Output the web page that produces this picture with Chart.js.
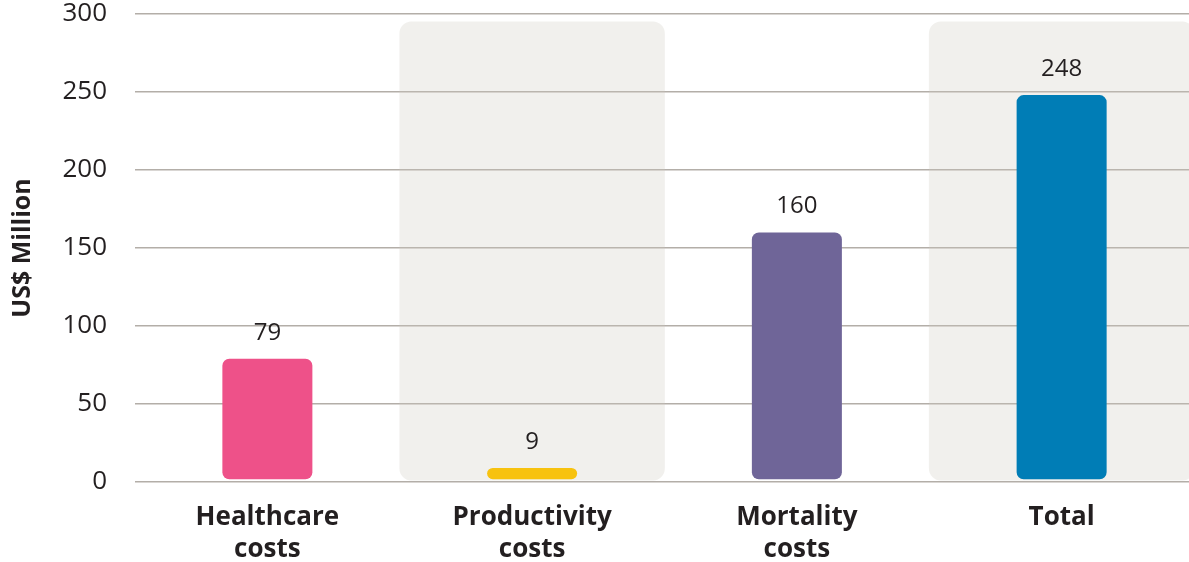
<!DOCTYPE html>
<html>
<head>
<meta charset="utf-8">
<script src="https://cdn.jsdelivr.net/npm/chart.js@4.4.1/dist/chart.umd.min.js"></script>
<style>
  html, body { margin: 0; padding: 0; background: #ffffff; overflow: hidden; }
  #wrap { width: 1195px; height: 562px; position: relative; }
</style>
</head>
<body>
<div id="wrap"><canvas id="chart"></canvas></div>
<script>
// Economic cost components, US$ million
const categories = [['Healthcare', 'costs'], ['Productivity', 'costs'], ['Mortality', 'costs'], ['Total']];
const costValues = [79, 9, 160, 248];
const barColors = ['#ee5189', '#f7c20f', '#6f6598', '#007db6'];
const yTicks = { min: 0, max: 300, step: 50 };
// categories that sit on a light panel, and the panel's extent in data units
const panelCategories = [1, 3];
const panelRange = [1.2, 295];
const barBase = 1.8;

const panelData = categories.map((_, i) => panelCategories.includes(i) ? panelRange : null);

const valueLabels = {
  id: 'valueLabels',
  afterDatasetsDraw(chart) {
    const ctx = chart.ctx;
    const meta = chart.getDatasetMeta(1);
    ctx.save();
    ctx.font = '24px "Open Sans", sans-serif';
    ctx.fillStyle = '#231f20';
    ctx.textAlign = 'center';
    ctx.textBaseline = 'middle';
    meta.data.forEach((bar, i) => {
      ctx.fillText(String(costValues[i]), bar.x, bar.y - 26);
    });
    ctx.restore();
  }
};

new Chart(document.getElementById('chart'), {
  type: 'bar',
  data: {
    labels: categories,
    datasets: [
      {
        data: panelData,
        backgroundColor: 'rgba(206, 200, 192, 0.28)',
        borderRadius: 12,
        borderSkipped: false,
        barPercentage: 1,
        categoryPercentage: 1,
        grouped: false,
        order: 2
      },
      {
        data: costValues,
        base: barBase,
        backgroundColor: barColors,
        borderRadius: 7,
        borderSkipped: false,
        barPercentage: 0.34,
        categoryPercentage: 1,
        grouped: false,
        order: 1
      }
    ]
  },
  options: {
    responsive: true,
    maintainAspectRatio: false,
    animation: false,
    layout: { padding: { left: 0, right: 1, top: 14, bottom: 0 } },
    plugins: {
      legend: { display: false },
      tooltip: { enabled: false }
    },
    scales: {
      x: {
        grid: { display: false, drawTicks: false },
        border: { display: false },
        afterFit(scale) {
          scale.height = 80;
          scale.paddingLeft = 0;
          scale.paddingRight = 0;
        },
        ticks: {
          color: '#231f20',
          padding: 20,
          maxRotation: 0,
          font: { family: '"Open Sans", sans-serif', size: 26, weight: 'bold', lineHeight: 1.23 }
        }
      },
      y: {
        min: yTicks.min,
        max: yTicks.max,
        grid: { color: '#b3aea8', lineWidth: 1.5, drawTicks: false },
        border: { display: false },
        afterFit(scale) {
          scale.width = 135;
          scale.paddingTop = 0;
          scale.paddingBottom = 0;
        },
        ticks: {
          stepSize: yTicks.step,
          color: '#231f20',
          padding: 28,
          font: { family: '"Open Sans", sans-serif', size: 26 }
        },
        title: {
          display: true,
          text: 'US$ Million',
          color: '#231f20',
          padding: { top: 8, bottom: 0 },
          font: { family: '"Open Sans", sans-serif', size: 25, weight: 'bold' }
        }
      }
    }
  },
  plugins: [valueLabels]
});
</script>
</body>
</html>
